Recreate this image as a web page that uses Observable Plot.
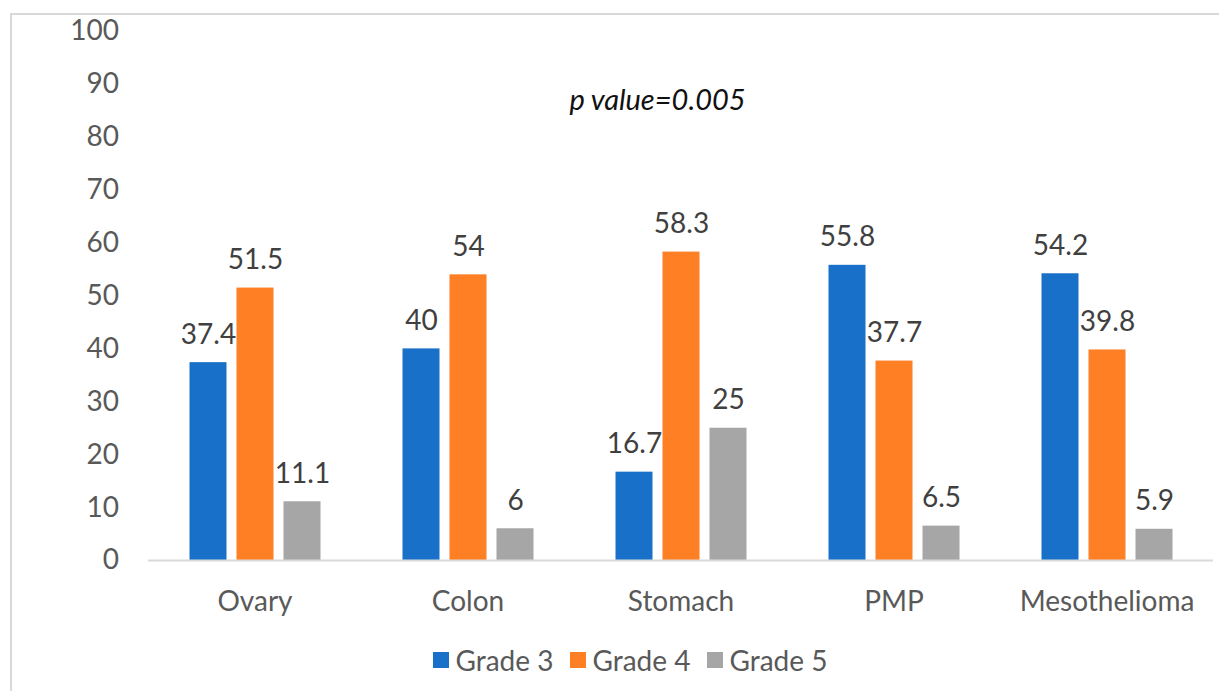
<!DOCTYPE html>
<html>
<head>
<meta charset="utf-8">
<script src="https://cdn.jsdelivr.net/npm/d3@7"></script>
<script src="https://cdn.jsdelivr.net/npm/@observablehq/plot@0.6"></script>
<style>
  html, body { margin: 0; padding: 0; background: #fff; width: 1219px; height: 691px; overflow: hidden; }
  #frame { position: absolute; left: 10px; top: 13px; width: 1230px; height: 700px; border-left: 2px solid #d9d9d9; border-top: 2px solid #d9d9d9; box-sizing: border-box; }
  #chart { position: absolute; left: 0; top: 0; }
  #legend { position: absolute; left: 0; top: 643px; width: 1260px; display: flex; justify-content: center; gap: 16px; font-family: Lato, sans-serif; font-size: 28px; color: #595959; }
  .item { display: flex; align-items: center; gap: 7px; }
  .sw { width: 16px; height: 16px; display: inline-block; }
</style>
</head>
<body>
<div id="frame"></div>
<div id="chart"></div>
<div id="legend"></div>
<script>
const categories = ["Ovary", "Colon", "Stomach", "PMP", "Mesothelioma"];
const grades = ["Grade 3", "Grade 4", "Grade 5"];
const grade3 = [37.4, 40, 16.7, 55.8, 54.2];
const grade4 = [51.5, 54, 58.3, 37.7, 39.8];
const grade5 = [11.1, 6, 25, 6.5, 5.9];
const colors = ["#1870C8", "#FF7F24", "#A6A6A6"];
const yTicks = [0, 10, 20, 30, 40, 50, 60, 70, 80, 90, 100];
const note = [{cat: "Stomach", grade: "Grade 3", y: 87, text: "p value=0.005"}];

const series = [grade3, grade4, grade5];
const rows = [];
categories.forEach((c, i) => grades.forEach((g, j) => rows.push({cat: c, grade: g, value: series[j][i]})));

const chart = Plot.plot({
  width: 1219,
  height: 625,
  marginLeft: 147.5,
  marginRight: 5.5,
  marginTop: 31,
  marginBottom: 65,
  style: {fontFamily: "Lato, sans-serif", fontSize: "28px", color: "#595959", background: "transparent", overflow: "visible"},
  fx: {domain: categories, padding: 0, axis: "bottom", tickSize: 0, tickPadding: 31, label: null},
  x: {domain: grades, axis: null, paddingInner: 0.22, paddingOuter: 0.852},
  y: {domain: [0, 100], ticks: yTicks, tickSize: 0, tickPadding: 29.5, label: null, line: false},
  color: {domain: grades, range: colors},
  marks: [
    Plot.barY(rows, {fx: "cat", x: "grade", y: "value", fill: "grade"}),
    Plot.ruleY([0], {stroke: "#d9d9d9", strokeWidth: 2}),
    Plot.text(rows, {fx: "cat", x: "grade", y: "value", text: d => String(d.value), dy: -28, fill: "#404040"}),
    Plot.text(note, {fx: "cat", x: "grade", y: "y", text: "text", dx: 23, fill: "#111", fontStyle: "italic", fontSize: 29})
  ]
});
document.getElementById("chart").appendChild(chart);

const legend = document.getElementById("legend");
grades.forEach((g, j) => {
  const item = document.createElement("div");
  item.className = "item";
  const sw = document.createElement("span");
  sw.className = "sw";
  sw.style.background = colors[j];
  const t = document.createElement("span");
  t.textContent = g;
  item.appendChild(sw); item.appendChild(t);
  legend.appendChild(item);
});
</script>
</body>
</html>
